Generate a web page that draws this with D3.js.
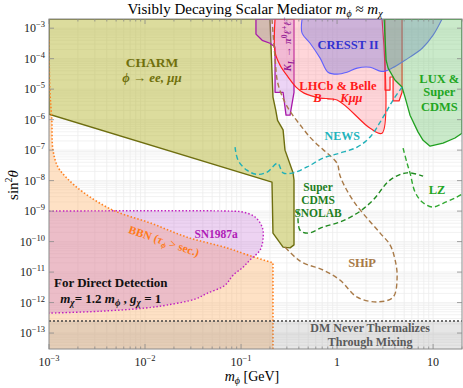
<!DOCTYPE html>
<html>
<head>
<meta charset="utf-8">
<script src="https://cdn.jsdelivr.net/npm/d3@7"></script>
<style>
  body { margin: 0; background: #fff; }
  svg { font-family: "Liberation Serif", "DejaVu Serif", serif; }
</style>
</head>
<body>
<div id="chart"></div>
<script>
// regions: [m_phi (GeV), sin^2 theta]
const charm = [[1e-3,2e-3],[0.2,2e-3],[0.215,5.5e-6],[0.23,2e-6],[0.24,9.5e-7],[0.274,4.6e-7],[0.287,1e-7],[0.348,1.8e-8],[0.356,1.05e-8],[0.356,7.8e-11],[0.324,6.2e-11],[0.274,6.6e-11],[0.215,1.9e-10],[0.21,8.9e-9],[1e-3,1.5e-6]];
const kaon = [[0.143,2e-3],[0.143,6.4e-4],[0.166,4e-4],[0.2,3.2e-4],[0.226,2.4e-4],[0.226,7.9e-6],[0.274,7.9e-6],[0.294,1.4e-6],[0.324,1.4e-6],[0.356,7.9e-6],[0.356,2e-3]];
const lhcb = [[0.226,2e-3],[0.226,1.63e-4],[0.255,6.1e-5],[0.309,2.5e-5],[0.374,1.17e-5],[0.453,7.4e-6],[0.666,5.1e-6],[1,4.4e-6],[2.21,5.2e-7],[2.94,3.6e-7],[2.94,2e-3]];
const lhcb2 = [[3.16,2e-3],[3.16,9.3e-6],[3.56,9.3e-6],[3.56,2.5e-5],[3.83,2.5e-5],[3.83,4.1e-6],[4.42,4.1e-6],[4.75,7.9e-6],[4.75,2e-3]];
const cresst = [[0.432,2e-3],[0.432,6.9e-4],[0.524,3.2e-4],[0.666,1.04e-4],[0.805,3.6e-5],[1,3.1e-5],[1.27,3.6e-5],[1.62,4.9e-5],[2.21,5.2e-5],[2.81,3.9e-5],[3.16,3.9e-5],[3.74,4.9e-5],[5.1,8.9e-5],[7.7,2.2e-4],[10,5.9e-4],[12.4,2e-3]];
const lux = [[3.09,2e-3],[3.24,8.9e-5],[3.4,4.9e-5],[4.0,2e-5],[4.75,1.17e-5],[5.1,5.5e-6],[5.75,1.4e-6],[6.98,3.9e-7],[7.87,2.1e-7],[9.3,1.35e-7],[12.7,1.7e-7],[16.9,2.5e-7],[20,3.6e-7],[20,2e-3]];
const bbnEdge = [[1e-3,4e-4],[1.02e-3,1e-5],[1.07e-3,9.5e-7],[1.1e-3,1e-7],[1.24e-3,2.8e-8],[1.54e-3,1.2e-8],[2.26e-3,4.2e-9],[4.64e-3,1.07e-9],[0.0113,4.1e-10],[0.0274,1.4e-10],[0.0715,6.2e-11],[0.11,3.9e-11],[0.215,2e-11]];
const bbnMassCut = 0.215;
const snEdge = [[1e-3,1e-9],[0.0767,1e-9],[0.105,9.3e-10],[0.14,6.4e-10],[0.166,3e-10],[0.17,1.4e-10],[0.158,5.3e-11],[0.124,2.5e-11],[0.105,1.45e-11],[0.0826,7.9e-12],[0.068,3.7e-12],[0.0443,2e-12],[0.0332,1.3e-12],[0.017,8.3e-13],[0.01,6.6e-13],[3.4e-3,5.2e-13],[1e-3,4.5e-13]];
const thermLimit = 2.5e-13;
const news = [[0.0866,1.26e-7],[0.093,4.7e-8],[0.115,2.2e-8],[0.147,1.6e-8],[0.187,1.9e-8],[0.24,3.7e-8],[0.274,1.8e-8],[0.348,1.8e-8],[0.487,2.8e-8],[0.715,5.5e-8],[1.07,8e-8],[1.62,1.26e-7],[2.21,2.7e-7],[2.94,1.05e-6],[3.83,4.4e-6],[4.75,1.17e-5]];
const snolab = [[0.393,1.07e-9],[0.41,2.4e-10],[0.5,1.9e-10],[0.715,3e-10],[1.07,4.4e-10],[1.62,8.5e-10],[2.37,2.3e-9],[3.56,1.04e-8],[5.36,1.8e-8],[7.87,1.4e-8]];
const lz = [[4.87,1.17e-7],[5.36,3.7e-8],[5.75,1.8e-8],[6.49,4.2e-9],[7.7,2e-9],[9.8,1.36e-9],[12.7,1.8e-9],[16.9,2.7e-9],[20,3.6e-9]];
const ship = [[0.21,2e-3],[0.226,1.04e-4],[0.24,1.7e-5],[0.274,5e-6],[0.309,2.4e-6],[0.365,1.1e-6],[0.432,5.6e-7],[0.5,3.1e-7],[0.634,1.45e-7],[0.787,8e-8],[1,3.7e-8],[1.07,1.5e-8],[1.21,6.2e-9],[1.54,1.8e-9],[2.05,5.9e-10],[2.81,1.9e-10],[3.56,7.8e-11],[4.02,2.5e-11],[4.22,6.9e-12],[3.83,1.5e-12],[2.61,1.05e-12],[1.62,1.5e-12],[1.07,5.5e-12],[0.715,1.17e-11],[0.443,2e-11],[0.365,3.1e-11],[0.287,6.6e-11]];

const xTicks = [1e-3, 1e-2, 1e-1, 1, 10];
const xTickLabels = [["10","−3"],["10","−2"],["10","−1"],["1",""],["10",""]];
const yTicks = [1e-3,1e-4,1e-5,1e-6,1e-7,1e-8,1e-9,1e-10,1e-11,1e-12,1e-13];
const yTickLabels = ["−3","−4","−5","−6","−7","−8","−9","−10","−11","−12","−13"];

const W = 463, H = 388;
const L = 49, R = 462, T = 19, B = 349;

const svg = d3.select("#chart").append("svg")
    .attr("width", W).attr("height", H);

const x = d3.scaleLog().domain([1e-3, 20]).range([L, R]);
const y = d3.scaleLog().domain([3e-14, 2e-3]).range([B, T]);
const [xMin, xMax] = x.domain(), [yMin, yMax] = y.domain();

svg.append("defs").append("clipPath").attr("id", "plotclip")
   .append("rect").attr("x", L).attr("y", T).attr("width", R - L).attr("height", B - T);

// grid
const grid = svg.append("g");
const minorX = [], minorY = [];
for (let e = -3; e <= 1; e++) for (let k = 1; k <= 9; k++) minorX.push(k * Math.pow(10, e));
for (let e = -14; e <= -3; e++) for (let k = 1; k <= 9; k++) minorY.push(k * Math.pow(10, e));
grid.selectAll(".gx").data(minorX.filter(v => v > xMin && v < xMax)).enter().append("line")
    .attr("x1", d => x(d)).attr("x2", d => x(d)).attr("y1", T).attr("y2", B)
    .style("stroke", "#e9e9e9").style("stroke-width", 0.7);
grid.selectAll(".gy").data(minorY.filter(v => v > yMin && v < yMax)).enter().append("line")
    .attr("y1", d => y(d)).attr("y2", d => y(d)).attr("x1", L).attr("x2", R)
    .style("stroke", "#ededed").style("stroke-width", 0.7);

const plot = svg.append("g").attr("clip-path", "url(#plotclip)");

const line = d3.line().x(d => x(d[0])).y(d => y(d[1]));
const smooth = d3.line().x(d => x(d[0])).y(d => y(d[1])).curve(d3.curveCatmullRom.alpha(0.5));
const pt = (m, s) => "L" + x(m) + "," + y(s);

function region(data, fill, op, stroke, sw, curve) {
    const gen = curve ? smooth : line;
    plot.append("path").attr("d", gen(data) + "Z")
        .style("fill", fill).style("fill-opacity", op)
        .style("stroke", stroke).style("stroke-width", sw)
        .style("stroke-linejoin", "round");
}

// BBN (below curve, left of the mass cut)
plot.append("path")
    .attr("d", smooth(bbnEdge) + pt(bbnMassCut, yMin) + pt(xMin, yMin) + "Z")
    .style("fill", "#fdb46e").style("fill-opacity", 0.4).style("stroke", "none");

// SN1987a
plot.append("path").attr("d", smooth(snEdge) + "Z")
    .style("fill", "#c060d0").style("fill-opacity", 0.28).style("stroke", "none");

region(charm, "#b5b532", 0.48, "#6e6e10", 1.4, false);
region(kaon, "#c070e0", 0.3, "#a818a8", 1.3, false);
region(lhcb, "#ff8a96", 0.35, "#ff2020", 1.2, true);
region(lhcb2, "#ff8a96", 0.35, "#ff2020", 1.2, false);
region(cresst, "#7070d8", 0.35, "#6060ff", 1.1, true);
region(lux, "#68c468", 0.35, "#20a020", 1.3, false);

// dotted boundaries
plot.append("path").attr("d", smooth(bbnEdge) + pt(bbnMassCut, yMin)).style("fill", "none")
    .style("stroke", "#ff8020").style("stroke-width", 1.6).style("stroke-dasharray", "1.5,2");
plot.append("path").attr("d", smooth(snEdge)).style("fill", "none")
    .style("stroke", "#c020c0").style("stroke-width", 1.4).style("stroke-dasharray", "1.5,2");

// thermalization band
plot.append("rect").attr("x", L).attr("width", R - L)
    .attr("y", y(thermLimit)).attr("height", B - y(thermLimit))
    .style("fill", "#808080").style("fill-opacity", 0.2);
plot.append("line").attr("x1", L).attr("x2", R).attr("y1", y(thermLimit)).attr("y2", y(thermLimit))
    .style("stroke", "#444").style("stroke-width", 1.4).style("stroke-dasharray", "2,2");

// projections
function dashed(data, color) {
    plot.append("path").attr("d", smooth(data))
        .style("fill", "none").style("stroke", color).style("stroke-width", 1.4)
        .style("stroke-dasharray", "5,3");
}
dashed(ship, "#a87a48");
dashed(news, "#20b0b8");
dashed(snolab, "#208a20");
dashed(lz, "#30a830");

// frame and ticks
svg.append("rect").attr("x", L).attr("y", T).attr("width", R - L).attr("height", B - T)
   .style("fill", "none").style("stroke", "#8a8a8a").style("stroke-width", 1);

const tk = svg.append("g").style("stroke", "#8a8a8a").style("stroke-width", 0.8);
minorX.filter(v => v >= xMin && v <= xMax).forEach(v => {
    const len = xTicks.includes(v) ? 5 : 2.5;
    tk.append("line").attr("x1", x(v)).attr("x2", x(v)).attr("y1", B).attr("y2", B - len);
    tk.append("line").attr("x1", x(v)).attr("x2", x(v)).attr("y1", T).attr("y2", T + len);
});
yTicks.forEach(v => {
    tk.append("line").attr("x1", L).attr("x2", L + 5).attr("y1", y(v)).attr("y2", y(v));
    tk.append("line").attr("x1", R).attr("x2", R - 5).attr("y1", y(v)).attr("y2", y(v));
});

// tick labels
const xl = svg.selectAll(".xl").data(xTicks).enter().append("text")
    .attr("x", d => x(d)).attr("y", B + 17).attr("text-anchor", "middle")
    .style("font-size", "12px").style("fill", "#222");
xl.append("tspan").text((d, i) => xTickLabels[i][0]);
xl.append("tspan").attr("dy", -5).style("font-size", "8.5px").text((d, i) => xTickLabels[i][1]);

const yl = svg.selectAll(".yl").data(yTicks).enter().append("text")
    .attr("x", L - 4).attr("y", d => y(d) + 4).attr("text-anchor", "end")
    .style("font-size", "12px").style("fill", "#222");
yl.append("tspan").text("10");
yl.append("tspan").attr("dy", -5).style("font-size", "8.5px").text((d, i) => yTickLabels[i]);

// axis titles
const xt = svg.append("text").attr("x", 252).attr("y", 381).attr("text-anchor", "middle")
    .style("font-size", "14px");
xt.append("tspan").style("font-style", "italic").text("m");
xt.append("tspan").attr("dy", 3).style("font-size", "10px").style("font-style", "italic").text("ϕ");
xt.append("tspan").attr("dy", -3).text(" [GeV]");

const yt = svg.append("text").attr("transform", "translate(18,185) rotate(-90)")
    .attr("text-anchor", "middle").style("font-size", "15px");
yt.append("tspan").text("sin");
yt.append("tspan").attr("dy", -6).style("font-size", "10px").text("2");
yt.append("tspan").attr("dy", 6).style("font-style", "italic").text("θ");

// title
const tt = svg.append("text").attr("x", 255).attr("y", 14).attr("text-anchor", "middle")
    .style("font-size", "15px");
tt.append("tspan").text("Visibly Decaying Scalar Mediator  ");
tt.append("tspan").style("font-style", "italic").text("m");
tt.append("tspan").attr("dy", 3).style("font-size", "10px").style("font-style", "italic").text("ϕ");
tt.append("tspan").attr("dy", -3).text(" ≈  ");
tt.append("tspan").style("font-style", "italic").text("m");
tt.append("tspan").attr("dy", 3).style("font-size", "10px").style("font-style", "italic").text("χ");

// labels; parts: t text, it italic, sm smaller, dy shift
function label(txt, m, s, color, size, opts) {
    opts = opts || {};
    const t = svg.append("text")
        .attr("text-anchor", "middle")
        .attr("dy", "0.35em")
        .style("font-size", size + "px").style("font-weight", "bold")
        .style("fill", color);
    if (opts.italic) t.style("font-style", "italic");
    const px = x(m), py = y(s);
    if (opts.rotate) t.attr("transform", "translate(" + px + "," + py + ") rotate(" + opts.rotate + ")");
    else t.attr("x", px).attr("y", py);
    if (Array.isArray(txt)) txt.forEach(p => {
        const sp = t.append("tspan").text(p.t);
        if (p.it) sp.style("font-style", "italic");
        if (p.dy) sp.attr("dy", p.dy);
        if (p.sm) sp.style("font-size", (size * 0.72) + "px");
    });
    else t.text(txt);
    return t;
}

label("CHARM", 0.0118, 7.7e-5, "#70700c", 13.5);
label("ϕ → ee, μμ", 0.0118, 2.5e-5, "#70700c", 13, { italic: true });
label("CRESST II", 1.3, 2.8e-4, "#3232d0", 12.5);
label("LHCb & Belle", 1.02, 1.35e-5, "#ff1a1a", 12.5);
label([{ t: "B", it: true }, { t: " → " }, { t: "Kμμ", it: true }], 1.02, 5.1e-6, "#ff1a1a", 12.5);
label("LUX &", 11.6, 2.3e-5, "#22a622", 12.5);
label("Super", 11.6, 8e-6, "#22a622", 12.5);
label("CDMS", 11.6, 2.7e-6, "#22a622", 12.5);
label("NEWS", 1.13, 2.9e-7, "#22b4bc", 12);
label("Super", 0.634, 6.2e-9, "#1f7f1f", 11.5);
label("CDMS", 0.634, 2.3e-9, "#1f7f1f", 11.5);
label("SNOLAB", 0.634, 8.5e-10, "#1f7f1f", 11.5);
label("LZ", 11, 4.9e-9, "#22a622", 12.5);
label("SHiP", 1.82, 2e-11, "#a87a48", 12.5);
label("SN1987a", 0.055, 1.8e-10, "#b01cb8", 11.5);
label([{ t: "BBN (" }, { t: "τ", it: true }, { t: "ϕ", it: true, sm: true, dy: 3 }, { t: " > sec.)", dy: -3 }],
      0.0158, 1.05e-10, "#ff7a1a", 11.5, { rotate: 19 });
label("For Direct Detection", 4.4e-3, 4.7e-12, "#111", 13);
label([{ t: "m", it: true }, { t: "χ", it: true, sm: true, dy: 3 }, { t: "= 1.2 ", dy: -3 }, { t: "m", it: true },
       { t: "ϕ", it: true, sm: true, dy: 3 }, { t: " , ", dy: -3 }, { t: "g", it: true },
       { t: "χ", it: true, sm: true, dy: 3 }, { t: "  = 1", dy: -3 }], 4.4e-3, 1.4e-12, "#111", 13);
label("DM Never Thermalizes", 2.21, 1.45e-13, "#5a5a5a", 12);
label("Through Mixing", 2.21, 5e-14, "#5a5a5a", 12);
label([{ t: "K", it: true }, { t: "L", it: true, sm: true, dy: 3 }, { t: " → ", dy: -3 }, { t: "π", it: true },
       { t: "0", sm: true, dy: -4 }, { t: "ℓ", it: true, dy: 4 }, { t: "+", sm: true, dy: -4 },
       { t: "ℓ", it: true, dy: 4 }, { t: "−", sm: true, dy: -4 }],
      0.301, 3e-4, "#951a95", 10.5, { rotate: -90 });
</script>
</body>
</html>
